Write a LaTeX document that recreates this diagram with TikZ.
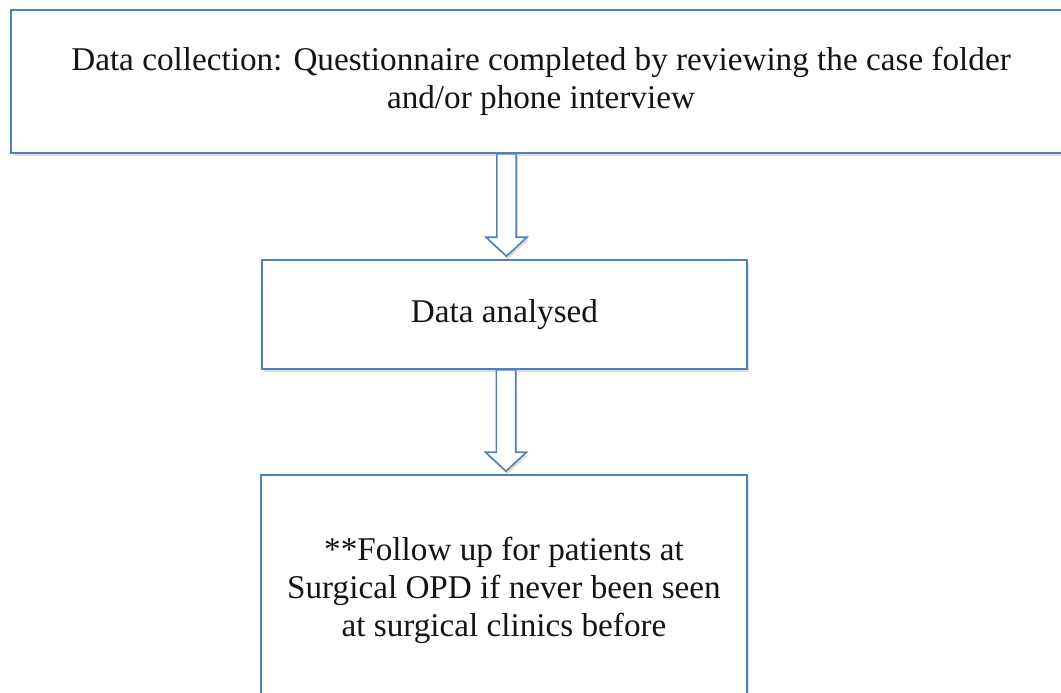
\documentclass[tikz,border=0pt]{standalone}
\usepackage{fontspec}
\setmainfont{Liberation Serif}
\usetikzlibrary{calc,shadows}
\definecolor{obl}{RGB}{79,129,189}
\definecolor{txt}{RGB}{20,20,20}
\tikzset{
  box/.style={draw=obl, line width=1.6pt, fill=white, rectangle, align=center,
    text=txt, font=\fontsize{33.2}{38}\selectfont, inner sep=0pt,
    drop shadow={shadow xshift=1.5pt, shadow yshift=-3pt, opacity=0.25}},
  blockarrow/.style={draw=obl, line width=1.6pt, fill=white, line join=miter,
    drop shadow={shadow xshift=1.5pt, shadow yshift=-3pt, opacity=0.25}}
}
\begin{document}
\begin{tikzpicture}[x=1pt,y=-1pt]
\clip (0,0) rectangle (1061,693);
\fill[white] (0,0) rectangle (1061,693);
\node[box, minimum width=1060pt, minimum height=143pt] (collect) at (541,81.5)
  {Data collection: Questionnaire completed by reviewing the case folder\\and/or phone interview};
\node[box, minimum width=485pt, minimum height=109pt] (analyse) at (504.5,314.5)
  {Data analysed};
\node[box, minimum width=486pt, minimum height=230pt] (follow) at (504,590)
  {**Follow up for patients at\\Surgical OPD if never been seen\\at surgical clinics before};
\draw[blockarrow] let \p1=(collect.south), \p2=(analyse.north) in
  (\x2-7.7pt,\y1) -- (\x2+11.7pt,\y1) -- (\x2+11.7pt,\y2+22pt) -- (\x2+22.5pt,\y2+22pt)
  -- (\x2+2pt,\y2+3pt) -- (\x2-18.5pt,\y2+22pt) -- (\x2-7.7pt,\y2+22pt) -- cycle;
\draw[blockarrow] let \p1=(analyse.south), \p2=(follow.north) in
  (\x2-7.7pt,\y1) -- (\x2+11.7pt,\y1) -- (\x2+11.7pt,\y2+22pt) -- (\x2+22.5pt,\y2+22pt)
  -- (\x2+2pt,\y2+3pt) -- (\x2-18.5pt,\y2+22pt) -- (\x2-7.7pt,\y2+22pt) -- cycle;
\end{tikzpicture}
\end{document}
